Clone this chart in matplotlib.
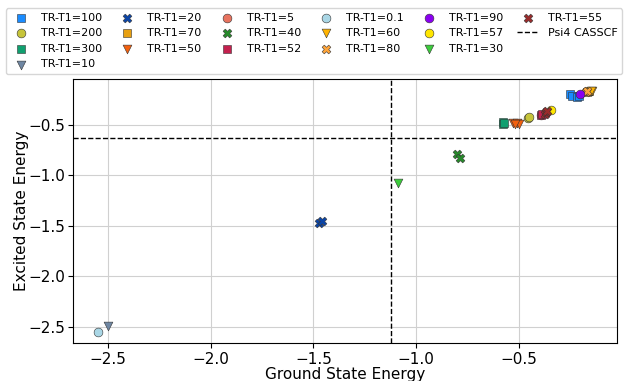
import matplotlib.pyplot as plt
from matplotlib.lines import Line2D

# TR-T1 runs: (label, marker, colour, ground energies, excited energies)
labels = ["TR-T1=100", "TR-T1=200", "TR-T1=300", "TR-T1=10", "TR-T1=20", "TR-T1=70",
          "TR-T1=50", "TR-T1=5", "TR-T1=40", "TR-T1=52", "TR-T1=0.1", "TR-T1=60",
          "TR-T1=80", "TR-T1=90", "TR-T1=57", "TR-T1=30", "TR-T1=55"]
markers = ["s", "o", "s", "v", "X", "s", "v", "o", "X", "s", "o", "v", "X", "o", "o", "v", "X"]
colors = ["#1a8cff", "#c6c43a", "#10a070", "#6f87a3", "#0a45a8", "#e8a010",
          "#f2600f", "#e8735f", "#268a2a", "#c4204e", "#a9d6e5", "#ffb300",
          "#ffa53a", "#8a00f0", "#ffe600", "#3ccc3c", "#9a2b2b"]

ground = [
    [-0.25, -0.24, -0.22, -0.21],        # 100
    [-0.455, -0.45],                      # 200
    [-0.58, -0.58, -0.575],               # 300
    [-2.50],                              # 10
    [-1.475, -1.46],                      # 20
    [-0.17, -0.16],                       # 70
    [-0.53, -0.51, -0.50, -0.52],         # 50
    [-0.395],                             # 5
    [-0.80, -0.785],                      # 40
    [-0.395, -0.39],                      # 52
    [-2.55],                              # 0.1
    [-0.145, -0.15],                      # 60
    [-0.175, -0.17],                      # 80
    [-0.205],                             # 90
    [-0.345],                             # 57
    [-1.09],                              # 30
    [-0.375, -0.37, -0.365],              # 55
]
excited = [
    [-0.19, -0.215, -0.225, -0.21],       # 100
    [-0.43, -0.42],                       # 200
    [-0.475, -0.495, -0.485],             # 300
    [-2.49],                              # 10
    [-1.47, -1.45],                       # 20
    [-0.17, -0.165],                      # 70
    [-0.48, -0.485, -0.495, -0.49],       # 50
    [-0.40],                              # 5
    [-0.79, -0.83],                       # 40
    [-0.40, -0.39],                       # 52
    [-2.555],                             # 0.1
    [-0.165, -0.16],                      # 60
    [-0.175, -0.165],                     # 80
    [-0.19],                              # 90
    [-0.355],                             # 57
    [-1.08],                              # 30
    [-0.39, -0.375, -0.365],              # 55
]

# Psi4 CASSCF reference energies
psi4_ground = -1.123
psi4_excited = -0.632

fig = plt.figure(figsize=(6.26, 3.81), dpi=100)
ax = fig.add_axes([0.117, 0.099, 0.868, 0.694])

handles = []
for lab, m, c, gx, ey in zip(labels, markers, colors, ground, excited):
    h = ax.scatter(gx, ey, marker=m, color=c, s=40, edgecolors="#333333",
                   linewidths=0.4, label=lab, zorder=3)
    handles.append(h)

ax.axvline(psi4_ground, color="black", linestyle="--", linewidth=1, zorder=2)
line = ax.axhline(psi4_excited, color="black", linestyle="--", linewidth=1,
                  label="Psi4 CASSCF", zorder=2)
handles.append(line)
# empty slot so the columns split like the original
handles.append(Line2D([], [], linestyle="none", label=" "))

ax.set_xlim(-2.669, -0.025)
ax.set_ylim(-2.665, -0.044)
ax.set_xlabel("Ground State Energy", fontsize=11, labelpad=0)
ax.set_ylabel("Excited State Energy", fontsize=11, labelpad=-1)
ax.tick_params(labelsize=11, pad=2.5)
ax.grid(True, color="#d0d0d0", linewidth=0.8)
ax.set_axisbelow(True)

fig.legend(handles=handles, labels=[h.get_label() for h in handles],
           loc="upper left", bbox_to_anchor=(0.009, 0.978, 0.985, 0.0),
           mode="expand", ncol=6, fontsize=8, frameon=True,
           handletextpad=0.8, borderaxespad=0.0)

fig.savefig("out.png", dpi=100)
